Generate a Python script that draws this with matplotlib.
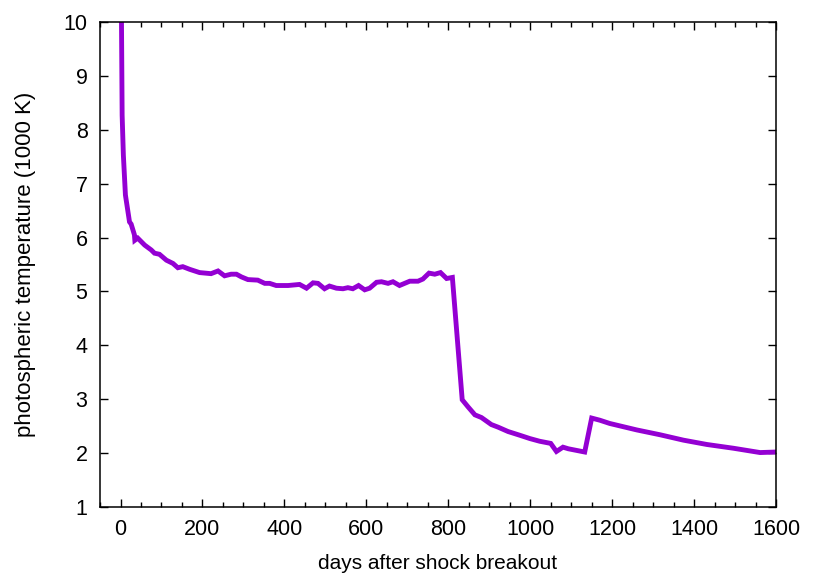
import matplotlib
matplotlib.use("Agg")
import matplotlib.pyplot as plt
from matplotlib.ticker import MultipleLocator

plt.rcParams['font.family'] = ['Liberation Sans', 'DejaVu Sans']

# days after shock breakout, photospheric temperature (1000 K)
days = [0, 2.4, 4, 7, 12, 22, 26, 34, 35, 42, 59, 75, 83, 95, 112, 128, 140, 152,
        169, 185, 193, 221, 238, 254, 270, 283, 295, 311, 335, 352, 364, 380, 409,
        437, 454, 470, 482, 498, 510, 527, 543, 555, 567, 581, 596, 608, 625, 637,
        653, 665, 681, 706, 726, 738, 753, 767, 781, 796, 810, 834, 848, 865, 881,
        905, 922, 946, 975, 999, 1023, 1050, 1064, 1080, 1093, 1133, 1150, 1170,
        1194, 1260, 1317, 1374, 1431, 1496, 1561, 1600]
temp = [11.0, 10.0, 8.27, 7.53, 6.79, 6.29, 6.25, 6.05, 5.95, 5.99, 5.86, 5.77,
        5.71, 5.69, 5.58, 5.52, 5.44, 5.46, 5.41, 5.37, 5.35, 5.33, 5.38, 5.29,
        5.32, 5.32, 5.27, 5.22, 5.21, 5.15, 5.15, 5.11, 5.11, 5.13, 5.06, 5.16,
        5.15, 5.05, 5.10, 5.06, 5.05, 5.07, 5.05, 5.11, 5.03, 5.06, 5.17, 5.18,
        5.15, 5.18, 5.11, 5.19, 5.19, 5.23, 5.34, 5.32, 5.35, 5.24, 5.26, 2.99,
        2.86, 2.71, 2.66, 2.53, 2.48, 2.40, 2.33, 2.27, 2.22, 2.18, 2.03, 2.11,
        2.08, 2.02, 2.65, 2.61, 2.55, 2.43, 2.34, 2.24, 2.16, 2.09, 2.01, 2.02]

fig = plt.figure(figsize=(8.3, 5.81), dpi=100)
ax = fig.add_axes([0.1205, 0.1274, 0.8145, 0.8347])

ax.plot(days, temp, color='#9400D3', lw=3.5, solid_joinstyle='miter')

ax.set_xlim(-50, 1600)
ax.set_ylim(1, 10)
ax.xaxis.set_major_locator(MultipleLocator(200))
ax.xaxis.set_minor_locator(MultipleLocator(50))
ax.yaxis.set_major_locator(MultipleLocator(1))
ax.tick_params(which='both', direction='in', top=True, right=True, labelsize=15.5,
               width=1, color='black')
ax.tick_params(which='major', length=6, pad=9)
ax.tick_params(which='minor', length=3.5)
for s in ax.spines.values():
    s.set_linewidth(1.1)

ax.set_xlabel('days after shock breakout', fontsize=15, labelpad=10)
ax.set_ylabel('photospheric temperature (1000 K)', fontsize=16, labelpad=20)

fig.savefig('out.png', dpi=100)
